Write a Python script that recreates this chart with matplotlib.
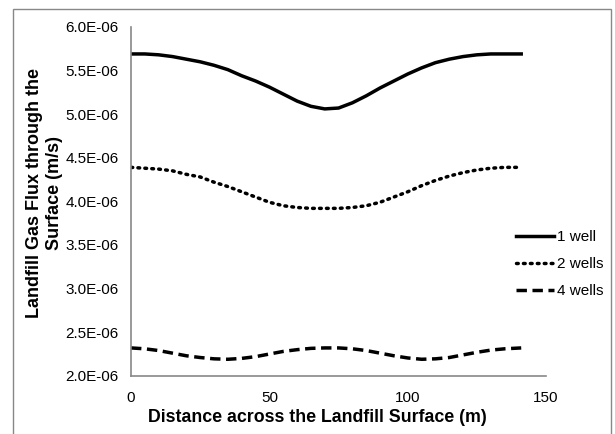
import matplotlib
matplotlib.use("Agg")
import matplotlib.pyplot as plt
from matplotlib.ticker import FuncFormatter
from matplotlib.patches import Rectangle

plt.rcParams['font.family'] = ['Liberation Sans', 'DejaVu Sans']

# distance across the landfill surface (m)
dist = [0, 5, 10, 15, 20, 25, 30, 35, 40, 45, 50, 55, 60, 65, 70,
        75, 80, 85, 90, 95, 100, 105, 110, 115, 120, 125, 130, 135, 141]

# flux values (x 1e-6 m/s)
one_well = [5.69, 5.69, 5.68, 5.66, 5.63, 5.60, 5.56, 5.51, 5.44, 5.38, 5.31, 5.23, 5.15, 5.09, 5.06,
            5.07, 5.13, 5.21, 5.30, 5.38, 5.46, 5.53, 5.59, 5.63, 5.66, 5.68, 5.69, 5.69, 5.69]
two_wells = [4.39, 4.38, 4.37, 4.35, 4.31, 4.28, 4.22, 4.17, 4.11, 4.05, 3.99, 3.95, 3.93, 3.92, 3.92,
             3.92, 3.93, 3.95, 3.99, 4.05, 4.11, 4.18, 4.24, 4.29, 4.33, 4.36, 4.38, 4.39, 4.39]
four_wells = [2.32, 2.31, 2.29, 2.26, 2.23, 2.21, 2.195, 2.19, 2.20, 2.22, 2.25, 2.28, 2.30, 2.315, 2.32,
              2.32, 2.31, 2.29, 2.26, 2.23, 2.205, 2.19, 2.195, 2.21, 2.24, 2.27, 2.295, 2.31, 2.32]

labels = ['1 well', '2 wells', '4 wells']

fig = plt.figure(figsize=(6.15, 4.34), dpi=100)
ax = fig.add_axes([0.213, 0.134, 0.675, 0.804])

# outer chart border
fig.patches.append(Rectangle((0.021, -0.01), 0.972, 0.989, transform=fig.transFigure,
                             fill=False, edgecolor='#888888', linewidth=1))

ax.plot(dist, [v * 1e-6 for v in one_well], color='black', lw=2.5, label=labels[0])
ax.plot(dist, [v * 1e-6 for v in two_wells], color='black', lw=2.5, ls=(0, (0.5, 1.5)),
        dash_capstyle='round', label=labels[1])
ax.plot(dist, [v * 1e-6 for v in four_wells], color='black', lw=2.5, ls=(0, (3, 1.6)),
        label=labels[2])

ax.set_xlim(0, 150)
ax.set_ylim(2.0e-6, 6.0e-6)
ax.set_xticks([0, 50, 100, 150])
ax.set_yticks([2.0e-6 + i * 0.5e-6 for i in range(9)])
ax.yaxis.set_major_formatter(FuncFormatter(lambda v, p: f"{v:.1E}"))
ax.tick_params(length=0, labelsize=11)
ax.tick_params(axis='x', pad=11)
ax.tick_params(axis='y', pad=9)

for s in ['top', 'right']:
    ax.spines[s].set_visible(False)
for s in ['left', 'bottom']:
    ax.spines[s].set_color('#888888')
    ax.spines[s].set_linewidth(1.2)

ax.set_xlabel('Distance across the Landfill Surface (m)', fontsize=12.8, fontweight='bold')
ax.set_ylabel('Landfill Gas Flux through the\nSurface (m/s)', fontsize=13, fontweight='bold',
              linespacing=1.25)
ax.xaxis.set_label_coords(0.448, -0.095)
ax.yaxis.set_label_coords(-0.164, 0.523)

ax.legend(loc='center left', bbox_to_anchor=(0.913, 0.32), frameon=False, fontsize=11,
          handlelength=2.5, handletextpad=0.2, labelspacing=0.85, borderaxespad=0)

fig.savefig('out.png', dpi=100)
